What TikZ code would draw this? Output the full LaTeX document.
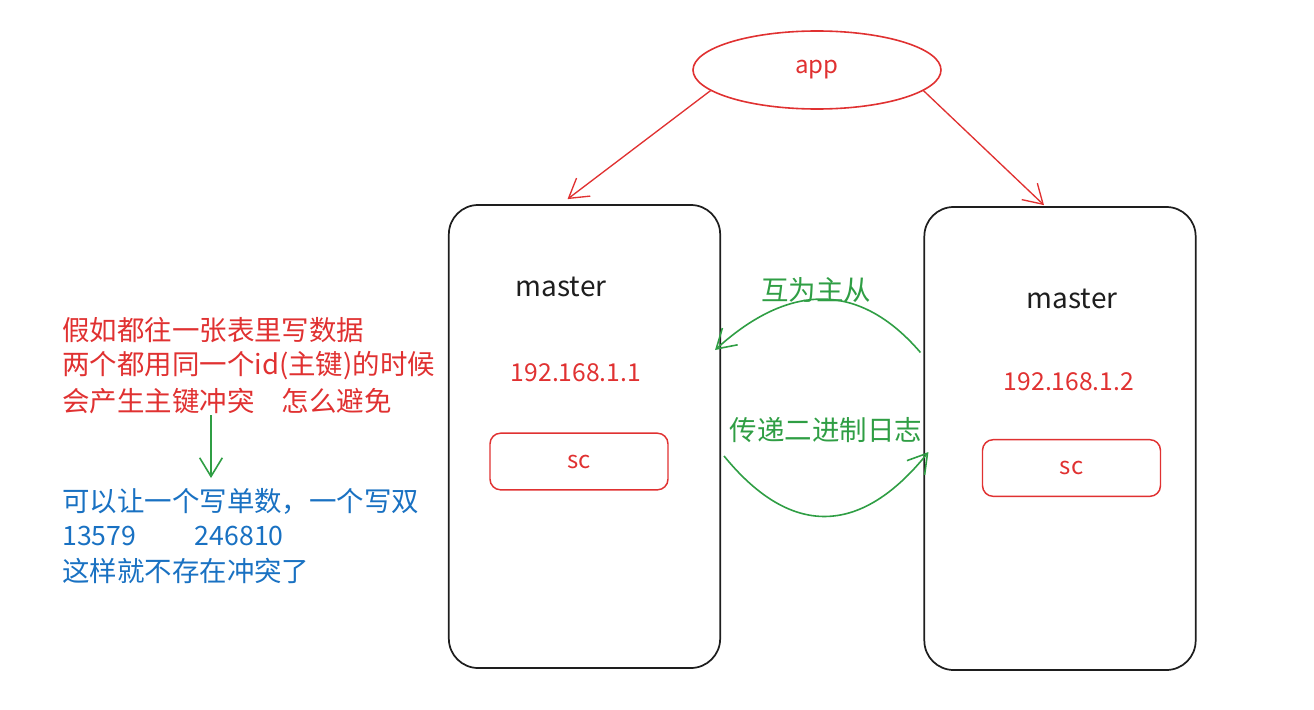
\documentclass[tikz,border=0pt]{standalone}
\usepackage{fontspec}
\setmainfont{Noto Sans CJK SC}
\usetikzlibrary{arrows.meta,shapes.geometric}
\definecolor{ered}{HTML}{E03131}
\definecolor{egreen}{HTML}{2F9E44}
\definecolor{eblue}{HTML}{1971C2}
\definecolor{ink}{HTML}{1E1E1E}
\begin{document}
\begin{tikzpicture}[x=0.75pt,y=-0.75pt,
  mbox/.style={draw=ink,line width=1.3pt,rounded corners=22pt,minimum width=203.5pt,minimum height=347.25pt,inner sep=0pt},
  scbox/.style={draw=ered,line width=1.1pt,rounded corners=8pt,minimum width=133.5pt,minimum height=42.5pt,inner sep=0pt,text=ered,font=\fontsize{18pt}{20pt}\selectfont},
  appnode/.style={ellipse,draw=ered,line width=1.2pt,minimum width=186pt,minimum height=58.5pt,inner sep=0pt,text=ered,font=\fontsize{18pt}{20pt}\selectfont},
  lbl/.style={inner sep=0pt,font=\fontsize{18.5pt}{22pt}\selectfont},
  cjk/.style={inner sep=0pt,anchor=west,font=\fontsize{20.6pt}{24pt}\selectfont},
  redarrow/.style={draw=ered,line width=1pt,-{Straight Barb[length=14pt,width=17pt,line width=1pt]}},
  greenarrow/.style={draw=egreen,line width=1.2pt,-{Straight Barb[length=14pt,width=17pt,line width=1.2pt]}},
]
\useasboundingbox (0,0) rectangle (1314,710);
% app ellipse
\node[appnode] (app) at (817,70) {app};
% master boxes
\node[mbox] (L) at (584.5,436.5) {};
\node[mbox] (R) at (1060,438.5) {};
\node[lbl,text=ink,font=\fontsize{21pt}{24pt}\selectfont] (m1) at (561,287) {master};
\node[lbl,text=ink,font=\fontsize{21pt}{24pt}\selectfont] (m2) at (1072,299) {master};
\node[lbl,text=ered] (ip1) at (576,373) {192.168.1.1};
\node[lbl,text=ered] (ip2) at (1069,382) {192.168.1.2};
\node[scbox] (sc1) at (579,461.5) {sc};
\node[scbox] (sc2) at (1071.5,468) {sc};
% red arrows
\draw[redarrow] (app.191.8) -- ([shift={(-17,-5)}]L.north);
\draw[redarrow] (app.349.9) -- ([shift={(-16,-1)}]R.north);
% green curved arrows
\draw[greenarrow] ([shift={(-3,-86)}]R.west) .. controls (860,282) and (790,282) .. ([shift={(-6,-86.5)}]L.east);
\draw[greenarrow] ([shift={(3,19.5)}]L.east) .. controls (790,537) and (860,537) .. ([shift={(5,13.5)}]R.west);
\node[cjk,anchor=center,text=egreen] (t1) at (816,290) {互为主从};
\node[cjk,anchor=center,text=egreen] (t2) at (826,430) {传递二进制日志};
% left notes
\node[cjk,text=ered] (q1) at (62,330) {假如都往一张表里写数据};
\node[cjk,text=ered] (q2) at (62,366) {两个都用同一个id(主键)的时候};
\node[cjk,text=ered] (q3) at (62,401) {会产生主键冲突\hspace{1em}怎么避免};
\node[cjk,text=eblue] (a1) at (62,501) {可以让一个写单数，一个写双};
\node[cjk,text=eblue,font=\fontsize{20pt}{22pt}\selectfont] (a2) at (62,536) {13579\hspace{44pt}246810};
\node[cjk,text=eblue] (a3) at (62,571) {这样就不存在冲突了};
\coordinate (d1) at (211,415);
\coordinate (d2) at (211,478);
\draw[greenarrow,line width=1pt] (d1) -- (d2);
\end{tikzpicture}
\end{document}
